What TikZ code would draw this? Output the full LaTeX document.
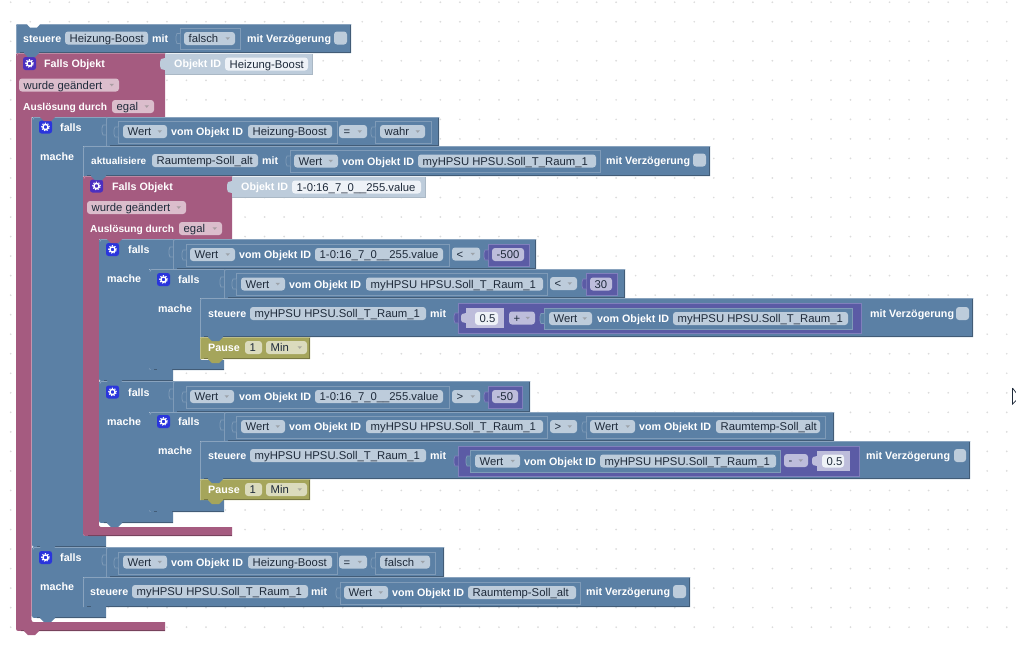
\documentclass[tikz,border=0pt]{standalone}
\usepackage{fontspec}
\setmainfont{Liberation Sans}
\definecolor{bl}{HTML}{5B80A5}
\definecolor{bll}{HTML}{7F9BB8}
\definecolor{bld}{HTML}{48668A}
\definecolor{pl}{HTML}{A55B80}
\definecolor{ol}{HTML}{A5A55B}
\definecolor{pu}{HTML}{5B5BA5}
\definecolor{pul}{HTML}{8080BC}
\definecolor{fb}{HTML}{BDCCDB}
\definecolor{fp}{HTML}{DBBDCC}
\definecolor{fo}{HTML}{DBDBBD}
\definecolor{fu}{HTML}{BDBDDB}
\definecolor{fw}{HTML}{EEF2F7}
\definecolor{ink}{HTML}{1E2A3A}
\definecolor{gb}{HTML}{2A35DC}
\definecolor{gp}{HTML}{4B2FC0}
\newcounter{nc}
\tikzset{
 lab/.style={anchor=base west,inner sep=0pt,text=white,font=\fontsize{10.7}{12}\selectfont\bfseries},
 ftx/.style={anchor=base west,inner sep=0pt,text=ink,font=\fontsize{11.3}{12}\selectfont},
 fieldbg/.style={rounded corners=3pt},
}
% white label
\newcommand\lbl[3]{\stepcounter{nc}\node[lab] (n\arabic{nc}) at (#1,#2+4.2) {#3};}
% plain field: x1 x2 yc fill text
\newcommand\fld[5]{\fill[#4,fieldbg] (#1,#3-6.5) rectangle (#2,#3+6.5);
 \stepcounter{nc}\node[ftx] (n\arabic{nc}) at (#1+4.5,#3+4.1) {#5};}
% dropdown field
\newcommand\dd[5]{\fld{#1}{#2}{#3}{#4}{#5}
 \fill[#4!60!black!70] (#2-9.5,#3-1.2) -- (#2-5,#3-1.2) -- (#2-7.25,#3+1.3) -- cycle;}
% C-shaped statement block: col x1 ytop x2 y2 armx y3 xb yb
\newcommand\cb[9]{\fill[#1] (#2+4,#3) -- (#4,#3) -- (#4,#5) -- (#6,#5) -- (#6,#7-5)
 .. controls (#6,#7) .. (#6+5,#7) -- (#8,#7) -- (#8,#9) -- (#2+5,#9)
 .. controls (#2,#9) .. (#2,#9-5) -- (#2,#3+4) .. controls (#2,#3) .. (#2+4,#3) -- cycle;
 \draw[#1!72!white,line width=.8pt] (#2+1,#3+2.5) .. controls (#2+1.5,#3+.5) .. (#2+4,#3+.4) -- (#4,#3+.4);
 \draw[#1!72!black,line width=.8pt] (#2+5,#9-.4) -- (#8,#9-.4);
 \draw[white,line width=1pt] (#6+.5,#7-6) .. controls (#6+.5,#7-.6) .. (#6+6,#7-.6) -- (#6+17,#7-.6);}
% row: col x1 y1 x2 y2
\newcommand\rb[5]{\fill[#1] (#2+4,#3) -- (#4,#3) -- (#4,#5) -- (#2,#5) -- (#2,#3+4) .. controls (#2,#3) .. (#2+4,#3) -- cycle;
 \draw[#1!72!white,line width=.8pt] (#2+.4,#5) -- (#2+.4,#3+3) .. controls (#2+.6,#3+.5) .. (#2+4,#3+.4) -- (#4,#3+.4);
 \draw[#1!72!black,line width=.8pt] (#2+4,#5-.4) -- (#4-.4,#5-.4) -- (#4-.4,#3+1);}
% tab bump below a block
\newcommand\tb[3]{\fill[#1] (#2+8,#3-1) -- (#2+23,#3-1) -- (#2+23,#3) -- (#2+19,#3+4) -- (#2+12,#3+4) -- (#2+8,#3) -- cycle;}
% outlined nested value block with puzzle tab
\newcommand\wb[6]{\fill[#1,draw=#2,line width=.8pt] (#3,#4) rectangle (#5,#6);
 \fill[#1,draw=#2,line width=.7pt] (#3+.3,{(#4+#6)/2-5}) -- (#3-3,{(#4+#6)/2-5}) -- (#3-4,{(#4+#6)/2-2}) -- (#3-4,{(#4+#6)/2+2}) -- (#3-3,{(#4+#6)/2+5}) -- (#3+.3,{(#4+#6)/2+5});}
% condition row
\newcommand\cond[4]{\rb{bl}{#1}{#2}{#3}{#4}
 \draw[bll,line width=.8pt] (#1+.4,#2) -- (#1+.4,#4);
 \draw[bll,line width=.8pt] (#1,#2+8) -- (#1-3,#2+8) -- (#1-4,#2+11) -- (#1-4,#2+15) -- (#1-3,#2+18) -- (#1,#2+18);}
% gear button
\newcommand\gear[3]{\fill[#3,rounded corners=2.5pt] (#1-6.5,#2-6.5) rectangle (#1+6.5,#2+6.5);
 \draw[white,line width=1.4pt] (#1,#2) circle (2.6pt);
 \draw[white,line width=1pt,dash pattern=on 1.25pt off 1.47pt] (#1,#2) circle (3.9pt);}
% checkbox
\newcommand\chk[3]{\fill[fb,rounded corners=3pt] (#1,#3-6.5) rectangle (#2,#3+6.5);}
\begin{document}
\begin{tikzpicture}[x=1pt,y=-1pt]
\useasboundingbox (0,0) rectangle (1016,648);
\fill[white] (0,0) rectangle (1016,648);
% grid dots
\foreach \i in {0,...,51} \foreach \j in {0,...,32}
 \fill[black!14] ({10.7+\i*19.53},{2.2+\j*19.53}) circle (.95pt);
% cursor
\draw[ink,line width=.7pt,fill=white] (1012.5,388) -- (1012.5,404) -- (1016.5,400);
\draw[ink,line width=.7pt] (1012.5,388) -- (1017,394);

% ---------- top block
\rb{bl}{16}{24}{351}{53}
\fill[white] (26,23) -- (41,23) -- (37,27.5) -- (30,27.5) -- cycle;
\lbl{23}{38}{steuere}
\fld{65}{148}{38}{fb}{Heizung-Boost}
\lbl{152}{38}{mit}
\wb{bl}{bll}{180}{28}{240}{49}
\dd{184}{235}{38.5}{fb}{falsch}
\lbl{247}{38}{mit Verzögerung}
\chk{334}{347}{38}

% ---------- outer trigger
\cb{pl}{16}{53}{165}{117}{31.5}{622}{165}{631}
\fill[fb] (165,54) rectangle (312,74);
\draw[fb!90!black,line width=.7pt] (165,74) -- (312,74) -- (312,54);
\fill[fb] (165,58) -- (161,59) -- (160,62) -- (160,66) -- (161,69) -- (165,70) -- cycle;
\lbl{174}{63}{Objekt ID}
\fld{225}{308}{64}{fw}{Heizung-Boost}
\gear{29.5}{63.5}{gp}
\lbl{44}{63}{Falls Objekt}
\dd{19}{119}{85}{fp}{wurde geändert}
\lbl{23}{106}{\fontsize{10.2}{12}\selectfont Auslösung durch}
\dd{112}{154}{106.5}{fp}{egal}

% ---------- falls 1
\cb{bl}{32}{117}{106}{146}{83}{536}{106}{547}
\cond{106}{117}{439}{146}
\gear{45.5}{127}{gb}
\lbl{60}{127}{falls}
\lbl{40}{156}{mache}
\wb{bl}{bll}{118}{121}{337}{143}
\dd{123}{167}{131.5}{fb}{Wert}
\lbl{171}{131.5}{vom Objekt ID}
\fld{248}{332}{131.5}{fb}{Heizung-Boost}
\dd{339}{367}{131.5}{fb}{=}
\wb{bl}{bll}{375}{121}{431}{143}
\dd{380}{425}{131.5}{fb}{wahr}

% aktualisiere
\rb{bl}{83}{146}{710}{176}
\lbl{91}{160}{\fontsize{10}{12}\selectfont aktualisiere}
\fld{152}{258}{160.5}{fb}{Raumtemp-Soll\_alt}
\lbl{262}{160}{mit}
\wb{bl}{bll}{290}{150}{600}{172}
\dd{294}{338}{161}{fb}{Wert}
\lbl{342}{161}{vom Objekt ID}
\fld{418}{596}{161}{fb}{myHPSU HPSU.Soll\_T\_Raum\_1}
\lbl{606}{160}{mit Verzögerung}
\chk{693}{706}{160}

% ---------- inner trigger
\cb{pl}{83}{176}{232}{239}{99}{527}{232}{536}
\fill[fb] (232,177) rectangle (425,197);
\draw[fb!90!black,line width=.7pt] (232,197) -- (425,197) -- (425,177);
\fill[fb] (232,181) -- (228,182) -- (227,185) -- (227,189) -- (228,192) -- (232,193) -- cycle;
\lbl{241}{186}{Objekt ID}
\fld{292}{421}{187}{fw}{1-0:16\_7\_0\_\_255.value}
\gear{96.5}{186}{gp}
\lbl{112}{186}{Falls Objekt}
\dd{87}{186}{207.5}{fp}{wurde geändert}
\lbl{90}{228}{\fontsize{10.2}{12}\selectfont Auslösung durch}
\dd{179}{222}{228.5}{fp}{egal}

% ---------- falls 2
\cb{bl}{99}{239}{173}{269}{149}{370}{173}{381}
\cond{173}{239}{536}{269}
\gear{112.5}{249.5}{gb}
\lbl{128}{249}{falls}
\lbl{107}{278}{mache}
\wb{bl}{bll}{186}{244}{449}{266}
\dd{190}{235}{254.5}{fb}{Wert}
\lbl{239}{254.5}{vom Objekt ID}
\fld{315}{443}{254.5}{fb}{1-0:16\_7\_0\_\_255.value}
\dd{452}{480}{254}{fb}{<}
\wb{pu}{pul}{488}{244}{529}{266}
\fld{492}{524}{254.5}{fu}{-500}

% ---------- falls 3
\cb{bl}{149}{269}{224}{298}{200}{360}{224}{370}
\cond{224}{269}{625}{298}
\gear{163.5}{279.5}{gb}
\lbl{178}{279}{falls}
\lbl{158}{308}{mache}
\wb{bl}{bll}{236}{273}{547}{295}
\dd{241}{285}{284}{fb}{Wert}
\lbl{289}{284}{vom Objekt ID}
\fld{366}{543}{284}{fb}{myHPSU HPSU.Soll\_T\_Raum\_1}
\dd{550}{577}{283.5}{fb}{<}
\wb{pu}{pul}{586}{273}{617}{295}
\fld{590}{612}{284}{fu}{30}

\rb{bl}{200}{298}{973}{337}
\lbl{208}{313}{steuere}
\fld{250}{426}{313.5}{fb}{myHPSU HPSU.Soll\_T\_Raum\_1}
\lbl{430}{313}{mit}
\wb{pu}{pul}{458}{303}{861}{333}
\fill[fu] (466,308) rectangle (504,328);
\fill[fu] (466,313) -- (462,314) -- (461,316) -- (461,320) -- (462,322) -- (466,323) -- cycle;
\fld{475}{498}{318.5}{fw}{0.5}
\dd{509}{535}{318}{fu}{+}
\wb{bl}{bll}{544}{308}{852}{329}
\dd{549}{592}{318.5}{fb}{Wert}
\lbl{597}{318.5}{vom Objekt ID}
\fld{673}{848}{318.5}{fb}{myHPSU HPSU.Soll\_T\_Raum\_1}
\lbl{870}{313}{mit Verzögerung}
\chk{956}{969}{313.5}

\rb{ol}{200}{337}{310}{359}
\tb{bl}{200}{337}
\lbl{208}{347.5}{Pause}
\fld{245}{262}{347.5}{fo}{1}
\dd{266}{307}{347.5}{fo}{Min}

% ---------- falls 4
\cb{bl}{99}{381}{173}{412}{149}{512}{173}{523}
\cond{173}{381}{530}{412}
\gear{112.5}{392}{gb}
\lbl{128}{392}{falls}
\lbl{107}{421}{mache}
\wb{bl}{bll}{186}{386}{449}{408}
\dd{190}{234}{396.5}{fb}{Wert}
\lbl{239}{396.5}{vom Objekt ID}
\fld{315}{443}{396.5}{fb}{1-0:16\_7\_0\_\_255.value}
\dd{452}{480}{396.5}{fb}{>}
\wb{pu}{pul}{488}{386}{522}{408}
\fld{492}{518}{396.5}{fu}{-50}

% ---------- falls 5
\cb{bl}{149}{412}{224}{441}{200}{500}{224}{512}
\cond{224}{412}{834}{441}
\gear{163.5}{421.5}{gb}
\lbl{178}{421}{falls}
\lbl{158}{450}{mache}
\wb{bl}{bll}{236}{416}{547}{438}
\dd{241}{285}{426.5}{fb}{Wert}
\lbl{289}{426.5}{vom Objekt ID}
\fld{366}{543}{426.5}{fb}{myHPSU HPSU.Soll\_T\_Raum\_1}
\dd{550}{577}{426.5}{fb}{>}
\wb{bl}{bll}{586}{416}{825}{438}
\dd{590}{635}{426.5}{fb}{Wert}
\lbl{639}{426.5}{vom Objekt ID}
\fld{716}{820}{426.5}{fb}{Raumtemp-Soll\_alt}

\rb{bl}{200}{441}{970}{479}
\lbl{208}{455}{steuere}
\fld{250}{426}{455.5}{fb}{myHPSU HPSU.Soll\_T\_Raum\_1}
\lbl{430}{455}{mit}
\wb{pu}{pul}{458}{446}{859}{476}
\wb{bl}{bll}{470}{450}{780}{472}
\dd{475}{520}{461}{fb}{Wert}
\lbl{524}{461}{vom Objekt ID}
\fld{600}{776}{461}{fb}{myHPSU HPSU.Soll\_T\_Raum\_1}
\dd{784}{808}{460.5}{fu}{-}
\fill[fu] (817,451) rectangle (850,471);
\fill[fu] (817,456) -- (813,457) -- (812,459) -- (812,463) -- (813,465) -- (817,466) -- cycle;
\fld{822}{844}{461}{fw}{0.5}
\lbl{866}{455}{mit Verzögerung}
\chk{954}{966}{455.5}

\rb{ol}{200}{479}{310}{500}
\tb{bl}{200}{479}
\lbl{208}{489.5}{Pause}
\fld{245}{262}{489.5}{fo}{1}
\dd{266}{307}{489.5}{fo}{Min}

% ---------- falls 6
\cb{bl}{32}{547}{106}{577}{83}{607}{106}{618}
\cond{106}{547}{444}{577}
\gear{45.5}{557.5}{gb}
\lbl{60}{557}{falls}
\lbl{40}{586}{mache}
\wb{bl}{bll}{118}{552}{337}{574}
\dd{123}{167}{562}{fb}{Wert}
\lbl{171}{562}{vom Objekt ID}
\fld{248}{332}{562}{fb}{Heizung-Boost}
\dd{339}{367}{562}{fb}{=}
\wb{bl}{bll}{375}{552}{435}{574}
\dd{380}{430}{562}{fb}{falsch}

\rb{bl}{83}{577}{690}{607}
\lbl{90}{591}{steuere}
\fld{132}{308}{591.5}{fb}{myHPSU HPSU.Soll\_T\_Raum\_1}
\lbl{311}{591}{mit}
\wb{bl}{bll}{340}{582}{580}{604}
\dd{344}{388}{592.5}{fb}{Wert}
\lbl{392}{592.5}{vom Objekt ID}
\fld{468}{576}{592.5}{fb}{Raumtemp-Soll\_alt}
\lbl{586}{591}{mit Verzögerung}
\chk{673}{686}{591.5}

% ---------- bottom tabs
\tb{bl}{16}{53}
\tb{pl}{16}{631}
\tb{pl}{32}{117}
\tb{pl}{99}{239}
\tb{bl}{83}{176}
\tb{bl}{32}{547}
\tb{bl}{32}{618}
\tb{bl}{83}{607}
\tb{bl}{99}{381}
\tb{bl}{99}{523}
\tb{bl}{149}{370}
\tb{bl}{149}{512}
\tb{ol}{200}{359}
\tb{ol}{200}{500}
\end{tikzpicture}
\end{document}
